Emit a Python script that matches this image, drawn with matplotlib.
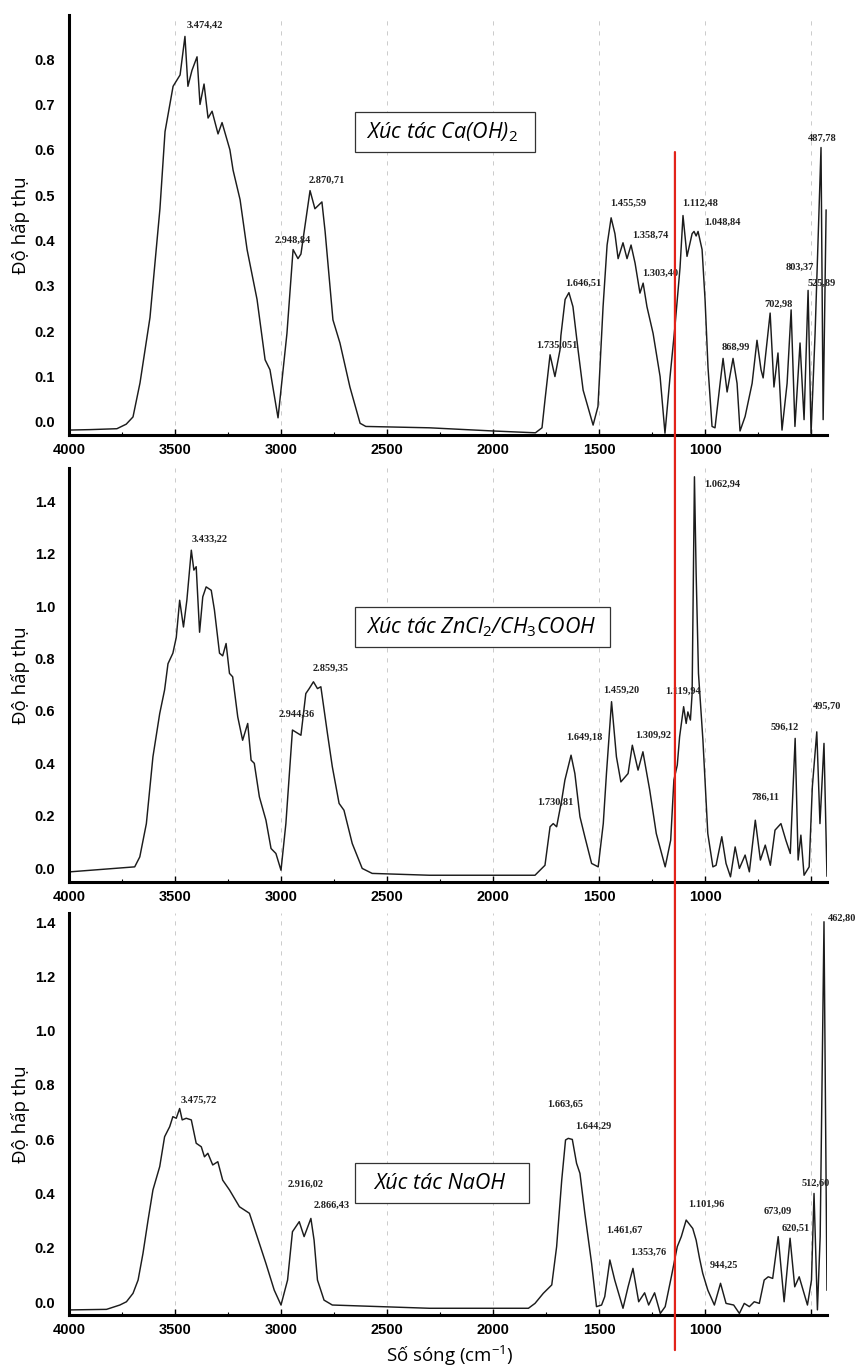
"""FT-IR spectra of three catalyst samples, stacked."""

import numpy as np
import matplotlib
matplotlib.use("Agg")
import matplotlib.pyplot as plt
from matplotlib.patches import ConnectionPatch, Rectangle
from matplotlib.ticker import MultipleLocator

plt.rcParams["mathtext.fontset"] = "custom"
plt.rcParams["mathtext.it"] = "Open Sans:italic"
plt.rcParams["mathtext.rm"] = "Open Sans"
plt.rcParams["mathtext.default"] = "it"

# (wavenumber cm-1, absorbance)
ca_spectrum = np.array([
    [4000, -0.018], [3900, -0.017], [3774, -0.015], [3730, -0.005], [3698, 0.011],
    [3665, 0.086], [3618, 0.23], [3571, 0.47], [3547, 0.64], [3509, 0.74],
    [3476, 0.765], [3453, 0.85], [3439, 0.74], [3420, 0.775], [3396, 0.805],
    [3382, 0.70], [3363, 0.745], [3344, 0.67], [3325, 0.685], [3297, 0.635],
    [3278, 0.66], [3241, 0.60], [3226, 0.555], [3193, 0.49], [3160, 0.38],
    [3113, 0.27], [3075, 0.137], [3052, 0.115], [3014, 0.009], [2972, 0.195],
    [2943, 0.38], [2920, 0.36], [2906, 0.37], [2863, 0.51], [2840, 0.47],
    [2807, 0.485], [2792, 0.42], [2755, 0.225], [2722, 0.174], [2675, 0.077],
    [2627, -0.003], [2600, -0.01], [2300, -0.013], [2000, -0.02], [1800, -0.024],
    [1769, -0.013], [1755, 0.048], [1731, 0.148], [1708, 0.10], [1684, 0.159],
    [1680, 0.19], [1660, 0.27], [1642, 0.285], [1623, 0.254], [1599, 0.159],
    [1575, 0.07], [1528, -0.007], [1505, 0.034], [1481, 0.254], [1462, 0.39],
    [1443, 0.45], [1425, 0.415], [1410, 0.36], [1387, 0.395], [1368, 0.36],
    [1349, 0.39], [1330, 0.35], [1307, 0.284], [1292, 0.306], [1274, 0.254],
    [1245, 0.195], [1212, 0.10], [1189, -0.025], [1165, 0.10], [1142, 0.21],
    [1118, 0.34], [1104, 0.455], [1085, 0.365], [1061, 0.415], [1052, 0.42],
    [1042, 0.41], [1033, 0.42], [1014, 0.38], [1000, 0.27], [986, 0.12],
    [967, -0.01], [953, -0.013], [929, 0.085], [915, 0.14], [896, 0.066],
    [868, 0.14], [849, 0.085], [835, -0.02], [811, 0.012], [778, 0.085],
    [755, 0.18], [736, 0.115], [726, 0.097], [693, 0.24], [675, 0.077],
    [656, 0.152], [637, -0.018], [613, 0.085], [594, 0.247], [576, -0.01],
    [552, 0.174], [533, 0.005], [514, 0.29], [500, -0.025], [481, 0.195],
    [453, 0.605], [443, 0.005], [429, 0.467],
])

zn_spectrum = np.array([
    [3995, -0.014], [3690, 0.005], [3666, 0.043], [3635, 0.17], [3604, 0.425],
    [3572, 0.59], [3549, 0.68], [3533, 0.78], [3510, 0.82], [3494, 0.88],
    [3478, 1.022], [3460, 0.92], [3444, 1.022], [3423, 1.213], [3411, 1.137],
    [3400, 1.15], [3384, 0.90], [3369, 1.035], [3353, 1.073], [3329, 1.06],
    [3314, 0.985], [3290, 0.82], [3275, 0.81], [3259, 0.857], [3243, 0.743],
    [3228, 0.73], [3204, 0.577], [3181, 0.488], [3157, 0.552], [3141, 0.412],
    [3126, 0.40], [3102, 0.272], [3071, 0.183], [3047, 0.075], [3024, 0.056],
    [3000, -0.008], [2977, 0.17], [2946, 0.527], [2906, 0.507], [2883, 0.666],
    [2867, 0.685], [2847, 0.711], [2828, 0.685], [2812, 0.692], [2781, 0.514],
    [2758, 0.387], [2726, 0.247], [2703, 0.221], [2664, 0.094], [2617, -0.001],
    [2570, -0.02], [2300, -0.027], [1802, -0.027], [1786, -0.014], [1755, 0.011],
    [1731, 0.158], [1716, 0.17], [1700, 0.158], [1676, 0.26], [1661, 0.336],
    [1632, 0.431], [1614, 0.361], [1590, 0.196], [1567, 0.12], [1535, 0.018],
    [1504, 0.005], [1480, 0.17], [1465, 0.361], [1441, 0.635], [1418, 0.425],
    [1397, 0.329], [1363, 0.361], [1343, 0.469], [1316, 0.374], [1293, 0.444],
    [1261, 0.298], [1230, 0.132], [1188, 0.005], [1162, 0.107], [1147, 0.336],
    [1131, 0.393], [1120, 0.501], [1101, 0.616], [1089, 0.552], [1081, 0.596],
    [1069, 0.565], [1061, 0.666], [1050, 1.493], [1042, 1.124], [1031, 0.743],
    [1010, 0.488], [987, 0.132], [963, 0.005], [948, 0.011], [921, 0.12],
    [901, 0.018], [880, -0.033], [858, 0.081], [838, -0.001], [811, 0.05],
    [791, -0.014], [763, 0.183], [739, 0.031], [716, 0.088], [692, 0.011],
    [670, 0.145], [642, 0.17], [619, 0.107], [598, 0.056], [575, 0.495],
    [561, 0.031], [548, 0.126], [533, -0.027], [509, 0.005], [494, 0.31],
    [473, 0.52], [458, 0.17], [439, 0.476], [425, -0.03],
])

na_spectrum = np.array([
    [3992, -0.029], [3823, -0.027], [3760, -0.011], [3729, 0.001], [3698, 0.032],
    [3674, 0.081], [3651, 0.179], [3627, 0.302], [3604, 0.413], [3572, 0.499],
    [3549, 0.609], [3525, 0.646], [3510, 0.683], [3494, 0.677], [3478, 0.713],
    [3466, 0.671], [3447, 0.677], [3423, 0.671], [3400, 0.585], [3376, 0.572],
    [3361, 0.535], [3345, 0.548], [3322, 0.505], [3298, 0.517], [3275, 0.449],
    [3243, 0.413], [3196, 0.351], [3149, 0.327], [3110, 0.235], [3071, 0.142],
    [3032, 0.044], [3000, -0.011], [2969, 0.081], [2946, 0.259], [2914, 0.296],
    [2891, 0.241], [2859, 0.308], [2844, 0.228], [2828, 0.081], [2797, 0.007],
    [2758, -0.011], [2300, -0.023], [1833, -0.023], [1802, -0.005], [1763, 0.032],
    [1723, 0.063], [1700, 0.204], [1676, 0.449], [1658, 0.597], [1645, 0.603],
    [1626, 0.599], [1606, 0.511], [1590, 0.474], [1567, 0.327], [1535, 0.142],
    [1512, -0.017], [1488, -0.011], [1473, 0.02], [1449, 0.155], [1426, 0.081],
    [1387, -0.023], [1363, 0.056], [1340, 0.124], [1313, 0.001], [1285, 0.034],
    [1266, -0.011], [1238, 0.034], [1211, -0.042], [1188, -0.017], [1159, 0.093],
    [1131, 0.204], [1112, 0.241], [1089, 0.302], [1058, 0.271], [1042, 0.228],
    [1026, 0.161], [1011, 0.106], [987, 0.044], [956, -0.011], [927, 0.069],
    [901, -0.005], [865, -0.011], [838, -0.042], [815, -0.005], [791, -0.017],
    [768, 0.001], [744, -0.005], [721, 0.081], [702, 0.093], [681, 0.087],
    [655, 0.241], [627, 0.001], [599, 0.235], [577, 0.056], [556, 0.093],
    [517, -0.011], [498, 0.081], [486, 0.40], [470, -0.029], [457, 0.241],
    [439, 1.401], [425, 0.044],
])

# peak annotations: text, wavenumber, absorbance of the label
ca_peak_text = ["3.474,42", "2.948,84", "2.870,71", "1.735,051", "1.646,51",
                "1.455,59", "1.358,74", "1.303,40", "1.112,48", "1.048,84",
                "868,99", "702,98", "803,37", "525,89", "487,78"]
ca_peak_wn = [3358, 2943, 2783, 1698, 1575, 1363, 1259, 1212, 1024, 920,
              854, 651, 552, 448, 448]
ca_peak_abs = [0.875, 0.40, 0.533, 0.17, 0.306, 0.482, 0.412, 0.328, 0.482,
               0.44, 0.165, 0.26, 0.341, 0.306, 0.625]

zn_peak_text = ["3.433,22", "2.944,36", "2.859,35", "1.730,81", "1.649,18",
                "1.459,20", "1.309,92", "1.119,94", "1.062,94", "786,11",
                "596,12", "495,70"]
zn_peak_wn = [3337, 2924, 2764, 1708, 1570, 1394, 1246, 1104, 920, 717, 624, 423]
zn_peak_abs = [1.255, 0.588, 0.763, 0.253, 0.499, 0.679, 0.505, 0.673, 1.465,
               0.27, 0.539, 0.616]

na_peak_text = ["3.475,72", "2.916,02", "2.866,43", "1.663,65", "1.644,29",
                "1.461,67", "1.353,76", "1.101,96", "944,25", "673,09",
                "620,51", "512,60", "462,80"]
na_peak_wn = [3388, 2886, 2759, 1658, 1527, 1379, 1269, 995, 909, 658, 572, 478, 353]
na_peak_abs = [0.744, 0.435, 0.357, 0.729, 0.648, 0.265, 0.185, 0.361, 0.136,
               0.336, 0.271, 0.437, 1.413]

x_ticks = [4000, 3500, 3000, 2500, 2000, 1500, 1000, 500]
x_tick_labels = ["4000", "3500", "3000", "2500", "2000", "1500", "1000", ""]

catalysts = ["Xúc tác Ca(OH)$_2$", "Xúc tác ZnCl$_2$/CH$_3$COOH", "Xúc tác NaOH"]

Y_LABEL = "Độ hấp thụ"
X_LABEL = "Số sóng (cm$^{\\mathrm{-1}}$)"
RED_LINE_WN = 1142


def draw_panel(ax, spectrum, ylim, ystep, ytop, peak_text, peak_wn, peak_abs,
               catalyst, box, text_x):
    """Draw one spectrum panel in the scanned-figure style."""
    ax.plot(spectrum[:, 0], spectrum[:, 1], color="#1c1c1c", linewidth=1.05)

    for txt, wn, ab in zip(peak_text, peak_wn, peak_abs):
        ax.text(wn, ab, txt, ha="center", va="center", fontsize=7.5,
                family="Liberation Serif", fontweight="bold", color="#222222",
                clip_on=False)

    ax.set_xlim(4000, 425)
    ax.set_ylim(*ylim)

    ax.set_xticks(x_ticks, labels=x_tick_labels, fontsize=10.5,
                  family="Liberation Sans", fontweight="bold")
    ax.xaxis.set_minor_locator(MultipleLocator(250))
    yticks = np.round(np.arange(0, ytop + 1e-9, ystep), 2)
    ax.set_yticks(yticks, labels=[f"{v:.1f}" for v in yticks], fontsize=10.5,
                  family="Liberation Sans", fontweight="bold")

    ax.tick_params(axis="x", which="major", direction="in", length=4, width=1, pad=6)
    ax.tick_params(axis="x", which="minor", direction="in", length=2.5, width=0.8)
    ax.tick_params(axis="y", length=0, pad=10)

    for side in ("top", "right"):
        ax.spines[side].set_visible(False)
    for side in ("left", "bottom"):
        ax.spines[side].set_linewidth(2.2)
        ax.spines[side].set_color("black")

    ax.grid(axis="x", color="#9a9a9a", linestyle=(0, (5, 7)), linewidth=0.6,
            alpha=0.6)

    ax.set_ylabel(Y_LABEL, fontsize=13.5, family="Open Sans")
    ax.yaxis.set_label_coords(-0.052, 0.5)

    # boxed catalyst name
    x0, y0, w, h = box
    ax.add_patch(Rectangle((x0, y0), w, h, transform=ax.transAxes,
                           facecolor="white", edgecolor="#333333",
                           linewidth=0.9, zorder=4))
    ax.text(text_x, y0 + h / 2, catalyst, transform=ax.transAxes,
            ha="left", va="center", fontsize=15.5, family="Open Sans",
            style="italic", zorder=5)


fig = plt.figure(figsize=(8.59, 13.72), dpi=100)
ax1 = fig.add_axes([0.0803, 0.6829, 0.8824, 0.3061])
ax2 = fig.add_axes([0.0803, 0.3571, 0.8824, 0.3017])
ax3 = fig.add_axes([0.0803, 0.0415, 0.8824, 0.2930])

draw_panel(ax1, ca_spectrum, (-0.029, 0.897), 0.1, 0.8,
           ca_peak_text, ca_peak_wn, ca_peak_abs, catalysts[0],
           (0.377, 0.674, 0.2375, 0.0952), 0.392)
draw_panel(ax2, zn_spectrum, (-0.053, 1.526), 0.2, 1.4,
           zn_peak_text, zn_peak_wn, zn_peak_abs, catalysts[1],
           (0.377, 0.5676, 0.3364, 0.0966), 0.392)
draw_panel(ax3, na_spectrum, (-0.048, 1.433), 0.2, 1.4,
           na_peak_text, na_peak_wn, na_peak_abs, catalysts[2],
           (0.377, 0.2786, 0.2296, 0.0995), 0.403)

ax3.set_xlabel(X_LABEL, fontsize=13.5, family="Open Sans")
ax3.xaxis.set_label_coords(0.503, -0.072)

# red marker line running through all three panels
red_line = ConnectionPatch(xyA=(RED_LINE_WN, 0.595), coordsA=ax1.transData,
                           xyB=(RED_LINE_WN, -0.177), coordsB=ax3.transData,
                           color="#e2231a", linewidth=1.6, zorder=10)
fig.add_artist(red_line)

fig.savefig("out.png", dpi=100)
